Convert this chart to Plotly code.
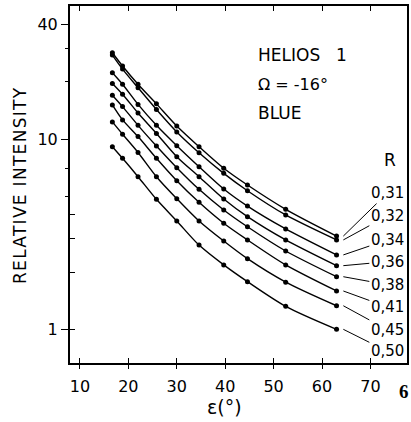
import math
import plotly.graph_objects as go

# elongation epsilon (deg)
eps = [16.7, 18.8, 22.0, 25.8, 30.0, 34.6, 39.7, 44.6, 52.5, 63.0]

# relative intensity for each R
r_labels = ["0,31", "0,32", "0,34", "0,36", "0,38", "0,41", "0,45", "0,50"]
I_031 = [28.4, 24.2, 19.4, 15.3, 11.7, 9.11, 7.02, 5.73, 4.27, 3.09]
I_032 = [27.6, 23.3, 18.6, 14.3, 10.9, 8.47, 6.60, 5.35, 3.99, 2.95]
I_034 = [22.3, 19.4, 15.2, 11.8, 9.22, 7.15, 5.46, 4.44, 3.37, 2.46]
I_036 = [19.6, 17.2, 13.7, 10.7, 8.07, 6.34, 4.84, 3.91, 2.95, 2.16]
I_038 = [17.0, 14.8, 11.8, 9.19, 7.07, 5.44, 4.24, 3.46, 2.58, 1.89]
I_041 = [15.1, 12.6, 10.3, 7.92, 6.04, 4.65, 3.61, 2.95, 2.18, 1.59]
I_045 = [12.3, 10.6, 8.5, 6.34, 4.86, 3.71, 2.91, 2.35, 1.77, 1.33]
I_050 = [9.11, 7.92, 6.34, 4.82, 3.71, 2.77, 2.18, 1.78, 1.32, 1.00]
series = [I_031, I_032, I_034, I_036, I_038, I_041, I_045, I_050]

x_ticks = [10, 20, 30, 40, 50, 60, 70]
y_major = [1, 10, 40]
y_minor_out = [5, 7, 20, 30]
y_minor_in = [1, 2, 3, 4]

FONT = "DejaVu Sans"
X_RANGE = [7.95, 77.55]
Y_RANGE = [-0.177, 1.699]

fig = go.Figure()
for name, vals in zip(r_labels, series):
    fig.add_trace(go.Scatter(
        x=eps, y=vals, name=name, mode="lines+markers",
        line=dict(color="black", width=1.4, shape="spline", smoothing=0.8),
        marker=dict(color="black", size=5),
        showlegend=False, hoverinfo="skip",
    ))

# helper traces to activate the overlay axes (for crossing ticks)
fig.add_trace(go.Scatter(x=[None], y=[None], xaxis="x2", yaxis="y", showlegend=False))
fig.add_trace(go.Scatter(x=[None], y=[None], xaxis="x", yaxis="y2", showlegend=False))

# leader label offsets (pixels) from the curve end
label_dx = 44
label_dy = [-43, -24, -15, -4, 8, 16, 24, 22]
tip_x = 64.4

annotations = []
for name, vals, dy in zip(r_labels, series, label_dy):
    annotations.append(dict(
        x=tip_x, y=math.log10(vals[-1]), xref="x", yref="y",
        text=name, showarrow=True, arrowhead=0, arrowwidth=1,
        arrowcolor="black", ax=label_dx, ay=dy,
        font=dict(family=FONT, size=15, color="black"),
    ))

annotations += [
    dict(x=0.551, y=0.863, xref="paper", yref="paper", text="HELIOS",
         showarrow=False, xanchor="left", yanchor="middle",
         font=dict(family=FONT, size=17, color="black")),
    dict(x=0.807, y=0.863, xref="paper", yref="paper", text="1",
         showarrow=False, xanchor="center", yanchor="middle",
         font=dict(family=FONT, size=17, color="black")),
    dict(x=0.551, y=0.779, xref="paper", yref="paper", text="Ω = -16°",
         showarrow=False, xanchor="left", yanchor="middle",
         font=dict(family=FONT, size=16, color="black")),
    dict(x=0.551, y=0.700, xref="paper", yref="paper", text="BLUE",
         showarrow=False, xanchor="left", yanchor="middle",
         font=dict(family=FONT, size=17, color="black")),
    dict(x=0.950, y=0.569, xref="paper", yref="paper", text="R",
         showarrow=False, xanchor="center", yanchor="middle",
         font=dict(family=FONT, size=17, color="black")),
    dict(x=-0.150, y=0.497, xref="paper", yref="paper",
         text="<span style='letter-spacing:1.3px'>RELATIVE INTENSITY</span>",
         textangle=-90,
         showarrow=False, xanchor="center", yanchor="middle",
         font=dict(family=FONT, size=17, color="black")),
    dict(x=0.457, y=-0.123, xref="paper", yref="paper", text="ε(°)",
         showarrow=False, xanchor="center", yanchor="middle",
         font=dict(family=FONT, size=19, color="black")),
    dict(x=0.991, y=-0.080, xref="paper", yref="paper", text="<b>6</b>",
         showarrow=False, xanchor="center", yanchor="middle",
         font=dict(family="Liberation Serif", size=19, color="black")),
]

fig.update_layout(
    width=411, height=422,
    margin=dict(l=70, r=2, t=6, b=59),
    paper_bgcolor="white", plot_bgcolor="white",
    annotations=annotations,
    xaxis=dict(
        range=X_RANGE, tickmode="array", tickvals=x_ticks,
        ticktext=[str(v) for v in x_ticks],
        ticks="inside", ticklen=5, tickwidth=1.3, tickcolor="black",
        showline=True, linewidth=2, linecolor="black", mirror="ticks",
        showgrid=False, zeroline=False,
        tickfont=dict(family=FONT, size=16, color="black"),
        ticklabelstandoff=8,
    ),
    xaxis2=dict(
        range=X_RANGE, overlaying="x", anchor="y", side="bottom",
        tickmode="array", tickvals=x_ticks, showticklabels=False,
        ticks="outside", ticklen=5, tickwidth=1.3, tickcolor="black",
        showline=False, showgrid=False, zeroline=False,
    ),
    yaxis=dict(
        type="log", range=Y_RANGE, tickmode="array", tickvals=y_major,
        ticktext=[str(v) for v in y_major],
        ticks="outside", ticklen=7, tickwidth=1.3, tickcolor="black",
        minor=dict(tickmode="array", tickvals=y_minor_out, ticks="outside",
                   ticklen=3, tickwidth=1.3, tickcolor="black", showgrid=False),
        showline=True, linewidth=2, linecolor="black", mirror=True,
        showgrid=False, zeroline=False,
        tickfont=dict(family=FONT, size=16, color="black"),
    ),
    yaxis2=dict(
        type="log", range=Y_RANGE, overlaying="y", anchor="x", side="left",
        tickmode="array", tickvals=y_minor_in, showticklabels=False,
        ticks="inside", ticklen=5, tickwidth=1.3, tickcolor="black",
        showline=False, showgrid=False, zeroline=False,
    ),
)

fig.write_html(
    "out.html",
    config={"displayModeBar": False},
    post_script="document.body.style.margin='0';document.body.style.overflow='hidden';",
)
